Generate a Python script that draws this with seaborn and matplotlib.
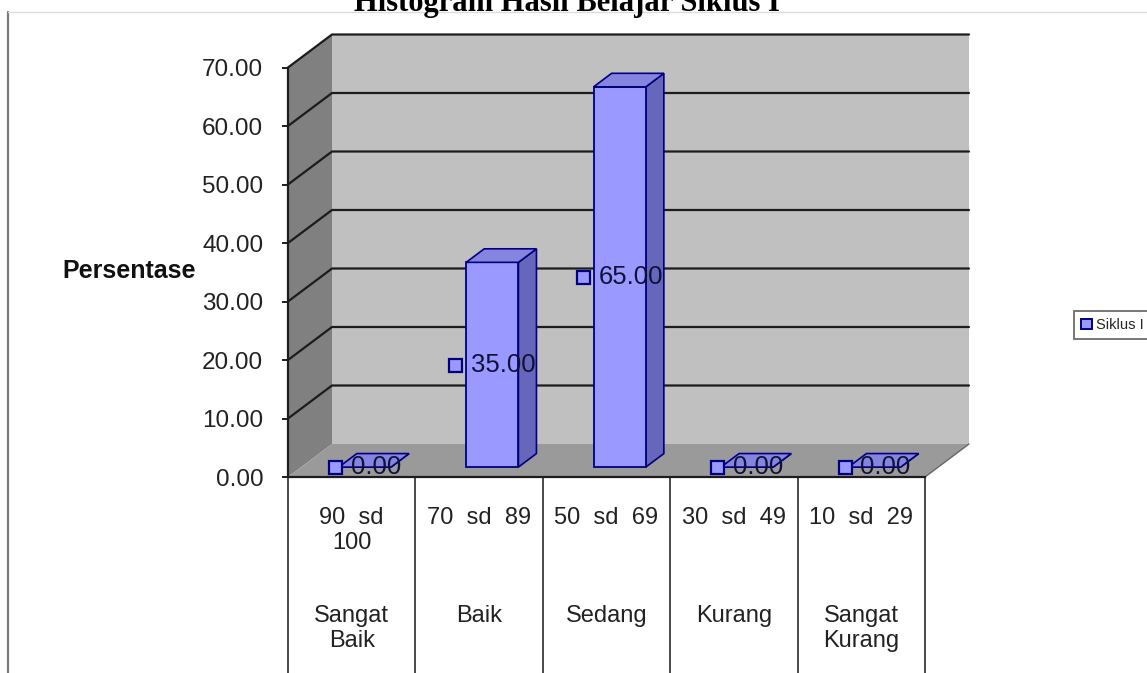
import matplotlib
matplotlib.use("Agg")
import matplotlib.pyplot as plt
import numpy as np
import pandas as pd
import seaborn as sns
from matplotlib.patches import Polygon, Patch
from matplotlib.lines import Line2D
from matplotlib.transforms import Affine2D, offset_copy
from matplotlib.ticker import StrMethodFormatter

# ---- data -------------------------------------------------------------
ranges = ["90  sd\n100", "70  sd  89", "50  sd  69", "30  sd  49", "10  sd  29"]
grades = ["Sangat\nBaik", "Baik", "Sedang", "Kurang", "Sangat\nKurang"]
persen = [0.00, 35.00, 65.00, 0.00, 0.00]
series_name = "Siklus I"
yticks = [0, 10, 20, 30, 40, 50, 60, 70]
title = "Histogram Hasil Belajar Siklus I"

# ---- style ------------------------------------------------------------
sns.set_theme(style="white")
plt.rcParams["font.family"] = ["Liberation Sans", "DejaVu Sans"]

W, H = 1147, 673
fig = plt.figure(figsize=(W / 100, H / 100), dpi=100)

# front plane of the 3-D box, in figure pixels
x_left, x_right = 288, 925
y_zero, y_top = 477, 67.5
ax = fig.add_axes([x_left / W, 1 - y_zero / H,
                   (x_right - x_left) / W, (y_zero - y_top) / H])
ax.set_facecolor("none")

n = len(grades)
ymax = yticks[-1]
cat_px = (x_right - x_left) / n
val_px = (y_zero - y_top) / ymax
# depth of the box (pixels) converted to data units
DX = 44 / cat_px
DY = 33 / val_px
D0, D1 = 0.30, 0.71   # front / back depth of the columns


def P(x, y, d):
    return (x + d * DX, y + d * DY)


df = pd.DataFrame({"kategori": grades, "persen": persen})
sns.barplot(data=df, x="kategori", y="persen", order=grades, width=0.41,
            color="#9999ff", saturation=1, edgecolor="#000080", linewidth=1.3,
            ax=ax, zorder=5)
bars = list(ax.patches)

ax.set_xlim(-0.5, n - 0.5)
ax.set_ylim(0, ymax)

# walls and floor
xl, xr = -0.5, n - 0.5
wall_kw = dict(transform=ax.transData, clip_on=False, linewidth=0)
ax.add_patch(Polygon([P(xl, 0, 1), P(xr, 0, 1), P(xr, ymax, 1), P(xl, ymax, 1)],
                     facecolor="#c0c0c0", zorder=0.5, **wall_kw))
ax.add_patch(Polygon([P(xl, 0, 0), P(xl, ymax, 0), P(xl, ymax, 1), P(xl, 0, 1)],
                     facecolor="#808080", zorder=0.6, **wall_kw))
ax.add_patch(Polygon([P(xl, 0, 0), P(xr, 0, 0), P(xr, 0, 1), P(xl, 0, 1)],
                     facecolor="#9a9a9a", zorder=0.7, **wall_kw))
fx, fy = zip(P(xr, 0, 0), P(xr, 0, 1))
ax.plot(fx, fy, color="#666666", lw=1.0, clip_on=False, zorder=0.75)

# gridlines on the side wall and back wall
for v in yticks[1:]:
    pts = [P(xl, v, 0), P(xl, v, 1), P(xr, v, 1)]
    gx, gy = zip(*pts)
    ax.plot(gx, gy, color="#1c1c1c", lw=1.6, clip_on=False, zorder=0.8)

# columns: shift front faces back, add side and top faces
shift = Affine2D().translate(D0 * DX, D0 * DY)
for b in bars:
    b.set_transform(shift + ax.transData)
    b.set_clip_on(False)
    x0, w, h = b.get_x(), b.get_width(), b.get_height()
    x1 = x0 + w
    ax.add_patch(Polygon([P(x1, 0, D0), P(x1, h, D0), P(x1, h, D1), P(x1, 0, D1)],
                         facecolor="#6666bb", edgecolor="#000080", lw=1.2,
                         clip_on=False, zorder=4.9))
    ax.add_patch(Polygon([P(x0, h, D0), P(x1, h, D0), P(x1, h, D1), P(x0, h, D1)],
                         facecolor="#8585e0", edgecolor="#000080", lw=1.2,
                         clip_on=False, zorder=5.1))

# data labels: legend key + value, centred on the column front
renderer = fig.canvas.get_renderer()
key_px, gap_px = 13, 9
for b, v in zip(bars, persen):
    cx, cy = P(b.get_x() + b.get_width() / 2, b.get_height() / 2, D0)
    t = ax.text(cx, cy, f"{v:.2f}", fontsize=18.5, color="#10103a",
                ha="left", va="center", zorder=7, clip_on=False)
    tw = t.get_window_extent(renderer).width
    total = key_px + gap_px + tw
    t.set_transform(offset_copy(ax.transData, fig=fig,
                                x=-total / 2 + key_px + gap_px, y=0, units="dots"))
    ax.plot([cx], [cy], marker="s", ms=key_px * 0.72, mfc="#9999ff",
            mec="#000080", mew=1.6, clip_on=False, zorder=7,
            transform=offset_copy(ax.transData, fig=fig,
                                  x=-total / 2 + key_px / 2, y=0, units="dots"))

# axes, ticks, labels
for s in ("top", "right"):
    ax.spines[s].set_visible(False)
for s in ("left", "bottom"):
    ax.spines[s].set_color("#1c1c1c")
    ax.spines[s].set_linewidth(1.6)
    ax.spines[s].set_zorder(6)
ax.set_yticks(yticks)
ax.yaxis.set_major_formatter(StrMethodFormatter("{x:.2f}"))
ax.tick_params(axis="y", direction="out", length=4.3, width=1.4, color="#1c1c1c",
               pad=13.5, labelsize=17.5, labelcolor="#222222", left=True)
ax.set_xticks([])
ax.set_xlabel("")
ax.set_ylabel("Persentase", rotation=0, fontsize=18, fontweight="bold",
              color="#111111", ha="left", va="center")
ax.yaxis.set_label_coords((62 - x_left) / (x_right - x_left),
                          (y_zero - 271) / (y_zero - y_top))

# two-level category table under the plot
xa = ax.get_xaxis_transform()
bottom_frac = -(H - y_zero) / (y_zero - y_top)
for i in range(n + 1):
    ax.plot([i - 0.5, i - 0.5], [0, bottom_frac], transform=xa,
            color="#3a3a3a", lw=1.3, clip_on=False, zorder=6)


def frac(py):
    return (y_zero - py) / (y_zero - y_top)


for i, (r, g) in enumerate(zip(ranges, grades)):
    ax.text(i, frac(507), r, transform=xa, ha="center", va="top",
            fontsize=17, color="#222222", linespacing=1.2)
    ax.text(i, frac(605), g, transform=xa, ha="center", va="top",
            fontsize=17, color="#222222", linespacing=1.2)

# legend (its box runs past the right border)
leg = fig.legend(handles=[Patch(facecolor="#9999ff", edgecolor="#000080", lw=1.4)],
                 labels=[series_name], loc="center left",
                 bbox_to_anchor=(1074 / W, 1 - 325 / H), frameon=True,
                 fancybox=False, edgecolor="#555555", fontsize=10.5,
                 handlelength=0.75, handleheight=0.75, handletextpad=0.25,
                 borderpad=0.5, borderaxespad=0)
leg.get_frame().set_linewidth(1.4)

# chart frame and title
fig.add_artist(Line2D([8 / W, 8 / W], [0, 1 - 12 / H], color="#7a7a7a", lw=1.6))
fig.add_artist(Line2D([8 / W, 1], [1 - 12 / H, 1 - 12 / H], color="#dcdcdc", lw=1.0))
fig.text(567 / W, 1 - 11 / H, title, ha="center", va="baseline",
         fontsize=22, fontweight="bold", family="Liberation Serif", color="#000000")

fig.savefig("out.png", dpi=100)
